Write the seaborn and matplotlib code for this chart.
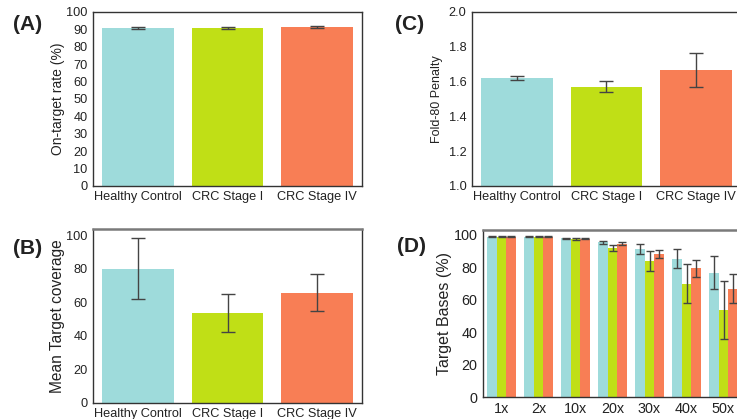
import matplotlib
matplotlib.use("Agg")
import matplotlib.pyplot as plt
import seaborn as sns
import pandas as pd
import numpy as np

# data
groups = ["Healthy Control", "CRC Stage I", "CRC Stage IV"]
colors = ["#9EDBDB", "#C0DF16", "#F87E55"]

on_target = [90.8, 90.9, 91.4]
on_target_err = [0.5, 0.4, 0.5]

mean_cov = [80.2, 53.8, 65.8]
mean_cov_err = [18.0, 11.5, 11.2]

fold80 = [1.621, 1.570, 1.668]
fold80_err = [0.012, 0.032, 0.097]

depths = ["1x", "2x", "10x", "20x", "30x", "40x", "50x"]
bases_hc = [98.9, 98.9, 97.8, 95.4, 91.0, 85.4, 76.7]
bases_s1 = [98.9, 98.9, 97.3, 92.1, 83.8, 69.9, 53.7]
bases_s4 = [98.9, 98.9, 97.5, 94.5, 88.3, 79.3, 66.7]
bases_hc_err = [0.2, 0.2, 0.3, 1.0, 3.1, 5.7, 10.2]
bases_s1_err = [0.2, 0.2, 0.5, 1.8, 6.0, 12.2, 17.9]
bases_s4_err = [0.2, 0.2, 0.3, 0.8, 2.5, 5.2, 9.0]

sns.set_style("white")
plt.rcParams["font.family"] = ["Liberation Sans", "DejaVu Sans"]

ERR_COLOR = "#444444"


def style_axes(ax, top_color="#333333"):
    for s in ["left", "bottom", "right"]:
        ax.spines[s].set_color("#333333")
        ax.spines[s].set_linewidth(1.0)
    ax.spines["top"].set_color(top_color)
    ax.spines["top"].set_linewidth(1.0 if top_color == "#333333" else 1.8)
    ax.tick_params(axis="both", which="both", direction="out", length=3,
                   width=0.8, color="#555555", labelcolor="#222222", pad=1)
    ax.tick_params(axis="x", pad=0.5)
    ax.set_xlabel("")


def simple_bar(ax, values, errs, ylabel, ylim, yticks, ylab_size, capsize=5):
    df = pd.DataFrame({"group": groups, "value": values})
    sns.barplot(data=df, x="group", y="value", hue="group", palette=colors,
                order=groups, hue_order=groups, errorbar=None, width=0.8,
                legend=False, ax=ax, saturation=1, linewidth=0)
    xs = [p.get_x() + p.get_width() / 2 for p in ax.patches]
    hs = [p.get_height() for p in ax.patches]
    ax.errorbar(xs, hs, yerr=errs, fmt="none", ecolor=ERR_COLOR,
                elinewidth=1.0, capsize=capsize, capthick=1.0)
    ax.set_ylim(*ylim)
    ax.set_yticks(yticks)
    ax.set_xlim(-0.5, 2.5)
    ax.set_ylabel(ylabel, fontsize=ylab_size, color="#222222", labelpad=1)
    ax.tick_params(axis="x", labelsize=9.2)
    ax.tick_params(axis="y", labelsize=9.2)


fig = plt.figure(figsize=(7.37, 4.19), dpi=100)

# (A)
axA = fig.add_axes([0.1262, 0.5561, 0.3650, 0.4153])
simple_bar(axA, on_target, on_target_err, "On-target rate (%)", (0, 100),
           np.arange(0, 101, 10), 10.0)
style_axes(axA)

# (C)
axC = fig.add_axes([0.6404, 0.5561, 0.3650, 0.4153])
simple_bar(axC, fold80, fold80_err, "Fold-80 Penalty", (1.0, 2.0),
           [1.0, 1.2, 1.4, 1.6, 1.8, 2.0], 9.0)
axC.yaxis.set_major_formatter(matplotlib.ticker.FormatStrFormatter("%.1f"))
style_axes(axC)
axC.yaxis.labelpad = 4

# (B)
axB = fig.add_axes([0.1262, 0.0382, 0.3650, 0.4153])
simple_bar(axB, mean_cov, mean_cov_err, "Mean Target coverage", (0, 103.8),
           [0, 20, 40, 60, 80, 100], 11.2)
style_axes(axB, top_color="#7a7a7a")

# (D)
axD = fig.add_axes([0.6554, 0.0525, 0.3514, 0.3986])
long_df = pd.DataFrame({
    "depth": depths * 3,
    "group": [groups[0]] * 7 + [groups[1]] * 7 + [groups[2]] * 7,
    "value": bases_hc + bases_s1 + bases_s4,
})
sns.barplot(data=long_df, x="depth", y="value", hue="group", order=depths,
            hue_order=groups, palette=colors, errorbar=None, width=0.8,
            legend=False, ax=axD, saturation=1, linewidth=0)
for cont, errs in zip(axD.containers, [bases_hc_err, bases_s1_err, bases_s4_err]):
    xs = [b.get_x() + b.get_width() / 2 for b in cont]
    hs = [b.get_height() for b in cont]
    axD.errorbar(xs, hs, yerr=errs, fmt="none", ecolor=ERR_COLOR,
                 elinewidth=1.0, capsize=2.8, capthick=1.0)
axD.set_xlim(-0.5, 6.5)
axD.set_ylim(0, 103)
axD.set_yticks([0, 20, 40, 60, 80, 100])
axD.set_ylabel("Target Bases (%)", fontsize=11.5, color="#222222", labelpad=1)
axD.tick_params(axis="both", labelsize=10.4)
style_axes(axD, top_color="#7a7a7a")

# panel letters
for label, x, y in [("(A)", 0.017, 0.965), ("(B)", 0.017, 0.43),
                    ("(C)", 0.536, 0.965), ("(D)", 0.538, 0.435)]:
    fig.text(x, y, label, fontsize=15, fontweight="bold", color="#222222",
             ha="left", va="top")

fig.savefig("out.png", dpi=100)
